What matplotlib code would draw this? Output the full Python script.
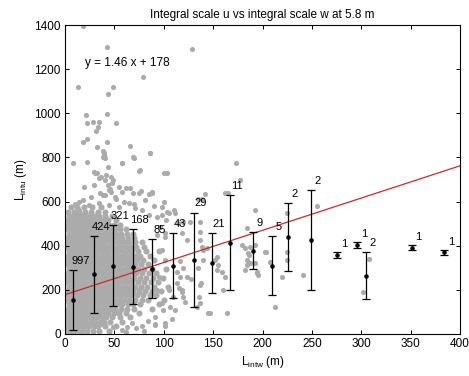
import matplotlib
matplotlib.use("Agg")
import matplotlib.pyplot as plt
import numpy as np

plt.rcParams['font.family'] = ['Liberation Sans', 'DejaVu Sans']
plt.rcParams['mathtext.fontset'] = 'custom'
plt.rcParams['mathtext.rm'] = 'Liberation Sans'
plt.rcParams['mathtext.it'] = 'Liberation Sans'

# ---- binned statistics ----
bin_x = [8.4, 29.7, 49, 68.5, 88.4, 109.7, 130.6, 148.5, 167, 190, 209.6, 225.5, 248.8, 275.8, 296, 304.8, 351, 383.8]
bin_mean = [154, 270, 310, 305, 296, 310, 336, 322, 414, 377, 310, 441, 425, 358, 403, 265, 391, 370]
bin_std = [136, 173, 183, 171, 133, 146, 214, 134, 215, 84, 134, 154, 226, 0, 0, 108, 0, 0]
bin_count = [997, 424, 321, 168, 85, 43, 29, 21, 11, 9, 5, 2, 2, 1, 1, 2, 1, 1]

# ---- fit ----
fit_slope = 1.46
fit_intercept = 178
fit_x = [0, 400]

# ---- scatter: dense core, stored as rows (y value, x values) ----
core_rows = [
    (15, [2, 5, 9, 13, 17, 22, 28, 34, 45]),
    (35, [1, 4, 8, 12, 15, 19, 24, 29, 33, 40, 52]),
    (55, [3, 6, 10, 14, 18, 21, 26, 30, 35, 39, 46, 58]),
    (75, [1, 5, 8, 12, 16, 20, 24, 28, 32, 37, 42, 48, 56, 66]),
    (95, [3, 7, 11, 14, 18, 22, 26, 31, 35, 39, 44, 50, 55, 62, 75]),
    (115, [2, 5, 9, 13, 17, 20, 24, 28, 33, 37, 41, 46, 51, 57, 63, 70, 88]),
    (135, [4, 7, 11, 15, 19, 23, 27, 30, 34, 39, 43, 48, 53, 58, 64, 69, 76, 95]),
    (155, [1, 6, 9, 13, 17, 21, 25, 29, 33, 36, 41, 45, 50, 55, 60, 65, 71, 78, 84, 100]),
    (175, [3, 7, 11, 15, 18, 22, 26, 31, 35, 38, 43, 47, 52, 57, 62, 67, 73, 79, 86, 92]),
    (195, [2, 5, 9, 13, 17, 20, 24, 28, 32, 37, 41, 45, 49, 54, 59, 64, 69, 75, 81, 88, 97]),
    (215, [4, 8, 11, 15, 19, 23, 27, 30, 34, 39, 43, 47, 52, 56, 61, 66, 71, 77, 83, 90, 104]),
    (235, [1, 6, 10, 13, 17, 21, 25, 29, 33, 36, 41, 45, 50, 54, 59, 63, 68, 74, 80, 87, 94]),
    (255, [3, 7, 11, 15, 19, 22, 26, 31, 35, 38, 43, 47, 51, 56, 61, 65, 70, 76, 82, 89, 99]),
    (275, [2, 5, 9, 13, 17, 21, 24, 28, 32, 37, 40, 45, 49, 53, 58, 62, 67, 72, 78, 85, 92]),
    (295, [4, 8, 12, 15, 19, 23, 27, 30, 34, 39, 42, 46, 51, 55, 60, 64, 69, 74, 80, 88, 102]),
    (315, [1, 6, 10, 14, 17, 21, 25, 29, 33, 36, 41, 44, 48, 53, 57, 62, 66, 71, 77, 84]),
    (335, [3, 7, 11, 15, 19, 22, 26, 31, 35, 38, 42, 47, 50, 55, 59, 64, 68, 73, 79, 90]),
    (355, [2, 5, 9, 13, 17, 20, 24, 28, 32, 37, 40, 44, 49, 52, 57, 61, 66, 71, 76, 86]),
    (375, [4, 8, 12, 15, 19, 23, 27, 30, 34, 38, 43, 46, 51, 54, 59, 63, 68, 74, 82, 95]),
    (395, [1, 6, 10, 14, 17, 21, 25, 29, 33, 36, 40, 45, 48, 53, 57, 62, 67, 72, 80]),
    (415, [3, 7, 11, 15, 19, 22, 26, 31, 35, 38, 42, 47, 50, 55, 60, 65, 71, 78]),
    (435, [2, 5, 9, 13, 17, 20, 24, 28, 32, 37, 41, 44, 49, 53, 58, 64, 70]),
    (455, [4, 8, 12, 15, 19, 23, 27, 30, 34, 39, 43, 47, 52, 57, 63, 69]),
    (475, [1, 6, 10, 14, 18, 21, 25, 29, 33, 37, 42, 46, 51, 56, 62]),
    (495, [3, 7, 11, 15, 19, 23, 27, 31, 35, 40, 45, 50, 56]),
    (515, [2, 6, 10, 14, 18, 22, 26, 30, 35, 39, 44, 52]),
    (535, [4, 8, 12, 17, 21, 25, 30, 34, 41, 48]),
    (555, [3, 9, 14, 20, 26, 33, 40]),
    (575, [6, 12, 19, 27, 36]),
]

# ---- scatter: sparse points ----
sparse_x = [17.9, 42.2, 128.3, 13.5, 48.3, 43.9, 78.7, 20.9, 42.2, 22, 28, 34.8, 51.6, 31.4, 33.7,
            18.5, 22.6, 42.2, 32.7, 65.8, 7.8, 22, 38.2, 39.5, 38.8, 40.5, 43.9, 57.4, 68.6, 86,
            75.2, 103, 173, 29.4, 32.1, 36, 34, 42, 47, 49, 19.2, 43.9, 45.5, 46.8, 55, 61.5, 69,
            77, 85, 35, 38, 41, 141.8, 162, 135, 139, 26, 18, 10, 14, 52, 60, 70, 90, 100, 110,
            103, 111.4, 114.7, 126.6, 136.7, 140, 138.4, 143.5, 152, 153.5, 158.7, 162, 160.3,
            163.7, 145, 134, 136, 138, 135, 123.2, 128, 119, 116, 113, 115, 118,
            178.9, 185.6, 192.4, 194, 187.3, 203.5, 212.7, 224.5, 225, 184, 192.4, 165.4,
            177, 87.8, 97.9, 102.3, 96.2, 92.9, 101.3, 119.8, 118.2, 123.2, 136.7, 136.7,
            153.6, 155.3, 140, 116.5, 113.1, 118.2, 119.8, 109.7, 106.3, 111.4, 121.5, 136.7,
            136.7, 146.8, 101.3, 91.1, 99.5, 92.9, 187.3, 184, 182.3,
            255.5, 182.3, 184, 192.4, 194, 186.6, 202.5, 195.7, 207.6, 219.4, 224.5, 241.3,
            302, 308, 25.3, 32.1, 37.2, 48.6, 62.5, 67.5, 77.7, 91.1, 101.3,
            39.2, 69.6, 57.7, 76.3, 86.4, 100, 30.7, 40.8, 29, 47.6, 44.2, 39.2, 51, 57.7, 66.2,
            74.6, 81.3, 88.1, 98.2, 105, 13.9, 24, 34.1, 44.3, 54.4, 64.5, 71.2, 78, 84.8, 93.2,
            98.2, 101.6, 94.9, 105, 98.2, 91.4, 101.6, 96.5, 58, 72, 84, 108, 80, 62]
sparse_y = [1396, 1302, 1293, 1120, 1120, 1087, 1166, 992, 997, 955, 962, 959, 955, 921, 936,
            871, 882, 871, 845, 852, 776, 781, 830, 818, 803, 796, 758, 776, 800, 819,
            740, 731, 773, 735, 728, 710, 705, 720, 710, 700, 665, 675, 657, 645, 665, 660, 640,
            650, 635, 640, 630, 630, 634, 637, 612, 610, 620, 605, 590, 600, 610, 600, 590, 580, 600, 560,
            551, 547, 502, 509, 509, 381, 396, 388, 335, 290, 282, 260, 199,
            94, 94, 124, 169, 230, 298, 260, 250, 300, 330, 280, 210, 190,
            403, 366, 403, 275, 320, 373, 124, 373, 335, 479, 562, 637,
            698, 637, 539, 516, 486, 449, 456, 509, 456, 426, 463, 426,
            350, 313, 335, 260, 230, 199, 169, 169, 124, 109, 146, 222,
            139, 94, 48, 41, 109, 199, 396, 335, 290,
            580, 388, 313, 320, 282, 358, 373, 267, 327, 257, 547, 267,
            192, 338, 40, 35, 45, 32, 30, 48, 38, 44, 35,
            811, 796, 776, 743, 819, 728, 728, 698, 675, 683, 652, 630, 622, 645, 660,
            637, 607, 645, 577, 547, 562, 585, 592, 585, 577, 592, 570, 562, 539, 531,
            381, 335, 260, 199, 139, 78, 441, 486, 20, 25, 60, 70, 15, 8]

# ---- assemble scatter ----
core_x = [x for (y, xs) in core_rows for x in xs]
core_y = [y for (y, xs) in core_rows for x in xs]

fig = plt.figure(figsize=(4.69, 3.76), dpi=100)
ax = fig.add_axes([65/469, 1 - 334/376, 395/469, 309/376])

gray = '#ababab'
ax.plot(core_x, core_y, linestyle='none', marker='o', markersize=4.4,
        color=gray, markeredgewidth=0, zorder=1)
ax.plot(sparse_x, sparse_y, linestyle='none', marker='o', markersize=3.7,
        color=gray, markeredgewidth=0, zorder=1)

fit_y = [fit_slope * x + fit_intercept for x in fit_x]
ax.plot(fit_x, fit_y, color='#cc2a2a', linewidth=0.9, zorder=2)

yerr_draw = [s if s > 0 else 12 for s in bin_std]
ax.errorbar(bin_x, bin_mean, yerr=yerr_draw, fmt='.', color='black', markersize=4.5,
            ecolor='black', elinewidth=0.9, capsize=3.0, capthick=0.9, zorder=3)

for x, m, s, n in zip(bin_x, bin_mean, bin_std, bin_count):
    if s > 0:
        ax.annotate(str(n), (x, m + s), xytext=(5, 3), textcoords='offset points',
                    ha='center', va='bottom', fontsize=8)
    else:
        ax.annotate(str(n), (x, m), xytext=(5, 4), textcoords='offset points',
                    ha='center', va='bottom', fontsize=8)

ax.text(20, 1230, 'y = 1.46 x + 178', ha='left', va='center', fontsize=8.5)

ax.set_xlim(0, 400)
ax.set_ylim(0, 1400)
ax.set_xticks(np.arange(0, 401, 50))
ax.set_yticks(np.arange(0, 1401, 200))
ax.tick_params(direction='in', top=True, right=True, labelsize=8.5, length=3, width=0.7, pad=3)
for sp in ax.spines.values():
    sp.set_linewidth(0.8)

ax.set_title('Integral scale u vs integral scale w at 5.8 m', fontsize=8.5, pad=5)
ax.set_xlabel(r'L$_{\rm intw}$ (m)', fontsize=8.5, labelpad=3)
ax.set_ylabel(r'L$_{\rm intu}$ (m)', fontsize=8.5, labelpad=4)

fig.savefig('out.png', dpi=100)
